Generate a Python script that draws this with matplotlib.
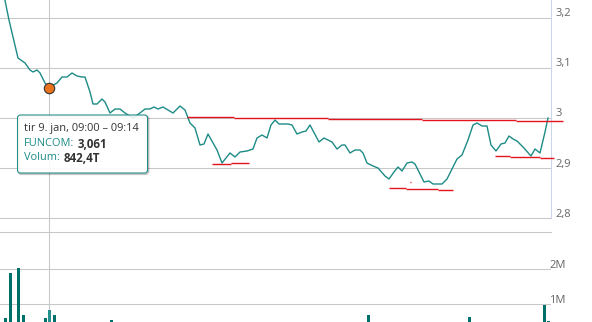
import matplotlib.pyplot as plt
from matplotlib.patches import FancyBboxPatch
from matplotlib.lines import Line2D
from matplotlib.transforms import IdentityTransform, blended_transform_factory, offset_copy

plt.rcParams["font.family"] = ["Open Sans", "DejaVu Sans"]

W, H, DPI = 592, 322, 100

# price line, position along the (ordinal) time axis and price
t = [4, 9, 13, 18, 25, 30, 33, 37, 40, 45, 49, 57, 62, 67, 72, 77, 82, 85, 90, 93,
     97, 102, 105, 110, 115, 120, 125, 133, 140, 145, 150, 154, 158, 163, 168, 173,
     180, 185, 190, 195, 200, 204, 208, 217, 222, 230, 235, 240, 247, 253, 257, 262,
     267, 271, 275, 279, 288, 292, 297, 302, 306, 310, 319, 324, 332, 337, 342, 345,
     350, 355, 360, 363, 367, 373, 378, 385, 389, 394, 398, 402, 407, 412, 415, 419,
     424, 429, 433, 442, 447, 452, 457, 462, 468, 473, 477, 482, 487, 491, 496, 501,
     505, 509, 513, 517, 523, 531, 535, 540, 545, 548]
price = [3.245, 3.196, 3.162, 3.120, 3.110, 3.096, 3.092, 3.096, 3.090, 3.070, 3.061,
         3.070, 3.082, 3.082, 3.090, 3.084, 3.082, 3.082, 3.052, 3.028, 3.028, 3.038,
         3.032, 3.010, 3.018, 3.018, 3.010, 3.000, 3.010, 3.018, 3.018, 3.022, 3.018,
         3.022, 3.016, 3.010, 3.024, 3.016, 2.990, 2.980, 2.946, 2.948, 2.968, 2.936,
         2.910, 2.930, 2.922, 2.932, 2.934, 2.938, 2.960, 2.966, 2.960, 2.986, 2.996,
         2.988, 2.988, 2.986, 2.968, 2.972, 2.974, 2.986, 2.952, 2.960, 2.952, 2.938,
         2.946, 2.946, 2.930, 2.936, 2.936, 2.930, 2.910, 2.904, 2.900, 2.884, 2.878,
         2.892, 2.902, 2.894, 2.910, 2.912, 2.908, 2.892, 2.872, 2.874, 2.868, 2.868,
         2.878, 2.898, 2.918, 2.926, 2.956, 2.986, 2.990, 2.984, 2.984, 2.946, 2.934,
         2.948, 2.950, 2.964, 2.958, 2.954, 2.942, 2.924, 2.938, 2.930, 2.972, 3.000]

# volume bars (millions)
vol_t = [5.5, 10.5, 18.5, 23.5, 45.5, 49.5, 54.5, 111.5, 368.5, 469.5, 544.5, 548.5]
vol = [0.61, 1.90, 2.04, 0.69, 0.61, 0.842, 0.69, 0.55, 0.69, 0.63, 0.98, 0.52]

# hovered point
hover_t, hover_price = 49, 3.061
hover_bar = 49.5
tip_date = "tir 9. jan, 09:00 \u2013 09:14"
tip_name, tip_value = "FUNCOM:", "3,061"
tip_vol_name, tip_vol_value = "Volum:", "842,4T"

# red resistance / support levels
lvl_start = [187, 234, 328, 422, 516, 212, 231, 389, 406, 438, 410, 495, 510, 540]
lvl_end = [234, 328, 422, 516, 563, 231, 249, 406, 438, 453, 411, 510, 540, 554]
lvl_price = [3.002, 3.000, 2.998, 2.996, 2.994, 2.908, 2.910, 2.860, 2.858, 2.856,
             2.872, 2.924, 2.922, 2.920]

price_ticks = [2.8, 2.9, 3.0, 3.1, 3.2]
price_labels = ["2,8", "2,9", "3", "3,1", "3,2"]
vol_ticks = [1, 2]
vol_labels = ["1M", "2M"]

teal = "#1d8b86"
bar_col = "#00706b"
bar_hover = "#26918c"
red = "#e3141c"
grid = "#c8c8c8"
txt = "#666666"

fig = plt.figure(figsize=(W / DPI, H / DPI), dpi=DPI)
fig.patch.set_facecolor("white")

# price pane: y pixels 0..218, vol pane: 232..339 (cut off by figure bottom)
ax = fig.add_axes([0, 1 - 218 / H, 551 / W, 218 / H])
axv = fig.add_axes([0, 1 - 339.3 / H, 551 / W, 107 / H])

ax.set_xlim(0, 551)
ax.set_ylim(2.8, 2.8 + 218 / 500)
axv.set_xlim(0, 551)
axv.set_ylim(0, 107 / 35)

for a in (ax, axv):
    a.patch.set_visible(False)
    a.set_xticks([])
    a.set_yticks([])
    for s in a.spines.values():
        s.set_visible(False)

ax.spines["right"].set_visible(True)
ax.spines["right"].set_color("#ccd6eb")
ax.spines["right"].set_linewidth(0.75)
axv.spines["top"].set_visible(True)
axv.spines["top"].set_color(grid)
axv.spines["top"].set_linewidth(0.75)

for v in price_ticks:
    ax.axhline(v, color=grid, lw=0.75, zorder=1, clip_on=False)
for v in vol_ticks:
    axv.axhline(v, color=grid, lw=0.75, zorder=1)

# crosshair through both panes
cross = Line2D([hover_t, hover_t], [0, 1], color=grid, lw=0.75, zorder=-1,
               transform=blended_transform_factory(ax.transData, fig.transFigure))
fig.add_artist(cross)

# axis labels
tr = offset_copy(blended_transform_factory(ax.transAxes, ax.transData), fig=fig,
                 x=4.5, y=4, units="dots")
for v, lbl in zip(price_ticks, price_labels):
    ax.text(1, v, lbl, transform=tr, ha="left", va="center", color=txt, fontsize=8,
            clip_on=False)
trv = offset_copy(blended_transform_factory(axv.transAxes, axv.transData), fig=fig,
                  x=-2, y=4, units="dots")
for v, lbl in zip(vol_ticks, vol_labels):
    axv.text(1, v, lbl, transform=trv, ha="left", va="center", color=txt, fontsize=8,
             clip_on=False)

ax.plot(t, price, color=teal, lw=1.0, zorder=3, solid_joinstyle="round")
lv = ax.hlines(lvl_price, lvl_start, lvl_end, color=red, lw=1.0, zorder=4)
lv.set_clip_on(False)
ax.plot([hover_t], [hover_price], "o", ms=7.5, mfc="#e8731c", mec="#333333", mew=0.8,
        zorder=6, clip_on=False)

colors = [bar_hover if x == hover_bar else bar_col for x in vol_t]
axv.bar(vol_t, vol, width=3.4, color=colors, zorder=3)

# tooltip
ident = IdentityTransform()
for off, lw_, al in [(1, 3, 0.05), (1, 2, 0.1), (1, 1, 0.15)]:
    sh = FancyBboxPatch((17.5 + off, H - 173 - off), 130, 58,
                        boxstyle="round,pad=0,rounding_size=3", transform=ident,
                        fc="none", ec=(0, 0, 0, al), lw=lw_ * 0.72, zorder=9)
    fig.add_artist(sh)
box = FancyBboxPatch((17.5, H - 173), 130, 58, boxstyle="round,pad=0,rounding_size=3",
                     transform=ident, fc=(1, 1, 1, 0.88), ec=teal, lw=0.75, zorder=10)
fig.add_artist(box)

fs = 7.9
fig.text(24, H - 129, tip_date, transform=ident, color="#333333", fontsize=fs,
         va="center", ha="left", zorder=11)
t1 = fig.text(24, H - 144, tip_name, transform=ident, color=teal, fontsize=fs,
              va="center", ha="left", zorder=11)
t2 = fig.text(24, H - 158, tip_vol_name, transform=ident, color=teal, fontsize=fs,
              va="center", ha="left", zorder=11)
r = fig.canvas.get_renderer()
w1 = t1.get_window_extent(r).x1
w2 = t2.get_window_extent(r).x1
fig.text(w1 + 3.5, H - 144, tip_value, transform=ident, color="#333333", fontsize=fs + 0.4,
         fontweight="bold", va="center", ha="left", zorder=11)
fig.text(w2 + 3.5, H - 158, tip_vol_value, transform=ident, color="#333333",
         fontsize=fs + 0.4, fontweight="bold", va="center", ha="left", zorder=11)

fig.savefig("out.png", dpi=DPI)
